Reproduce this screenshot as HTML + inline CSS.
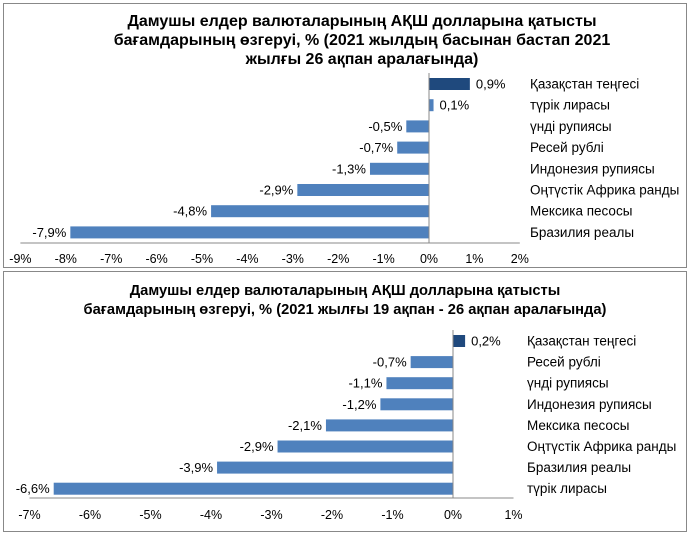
<!DOCTYPE html>
<html><head><meta charset="utf-8"><style>
body{margin:0;background:#fff;}
svg{display:block;font-family:"Liberation Sans",Arial,sans-serif;}
.t{font-weight:bold;font-size:16px;fill:#000;text-anchor:middle}
.t2{font-weight:bold;font-size:14.7px;fill:#000;text-anchor:middle}
.l{font-size:13.5px;fill:#000}
.v{font-size:13px;fill:#000}
.a{font-size:12.5px;fill:#000;text-anchor:middle}
</style></head><body>
<svg width="692" height="537" viewBox="0 0 692 537" xmlns="http://www.w3.org/2000/svg">
<rect x="3.5" y="3.5" width="683" height="264" fill="none" stroke="#888"/>
<rect x="3.5" y="271.5" width="683" height="260" fill="none" stroke="#888"/>
<text class="t" x="362" y="26">Дамушы елдер валюталарының АҚШ долларына қатысты</text>
<text class="t" x="362" y="45">бағамдарының өзгеруі, %  (2021 жылдың басынан бастап 2021</text>
<text class="t" x="362" y="64">жылғы 26 ақпан аралағында)</text>
<text class="t2" x="345" y="295">Дамушы елдер валюталарының АҚШ долларына қатысты</text>
<text class="t2" x="345" y="314">бағамдарының өзгеруі, %  (2021 жылғы 19 ақпан - 26 ақпан аралағында)</text>
<g id="top"></g>
<g id="bot"></g>
</svg>
<script>
function chart(g,zero,s,y0,dy,vals,names,vlab,axisY,ticks,labY,xl){
 let h='';
 vals.forEach((v,i)=>{const cy=y0+dy*i;const x=v<0?zero+v*s:zero;const w=Math.abs(v)*s;
  const c=i==0?'#1f497d':'#4f81bd';
  h+=`<rect x="${x}" y="${cy-6}" width="${w}" height="12" fill="${c}"/>`;
  const lx=v<0?x-4:x+w+6;
  h+=`<text class="v" x="${lx}" y="${cy+4.5}" text-anchor="${v<0?'end':'start'}">${vlab[i]}</text>`;
  h+=`<text class="l" x="${xl}" y="${cy+4.5}">${names[i]}</text>`;});
 h+=`<line x1="${zero}" y1="${y0-11}" x2="${zero}" y2="${axisY}" stroke="#888"/>`;
 h+=`<line x1="${zero+ticks[0]*s}" y1="${axisY}" x2="${zero+ticks[ticks.length-1]*s}" y2="${axisY}" stroke="#888"/>`;
 ticks.forEach(t=>{h+=`<text class="a" x="${zero+t*s}" y="${labY}">${t}%</text>`;});
 document.getElementById(g).innerHTML=h;}
const r=(a,b)=>{let o=[];for(let i=a;i<=b;i++)o.push(i);return o;};
chart('top',429,45.4,84,21.2,[0.9,0.1,-0.5,-0.7,-1.3,-2.9,-4.8,-7.9],
['Қазақстан теңгесі','түрік лирасы','үнді рупиясы','Ресей рублі','Индонезия рупиясы','Оңтүстік Африка ранды','Мексика песосы','Бразилия реалы'],
['0,9%','0,1%','-0,5%','-0,7%','-1,3%','-2,9%','-4,8%','-7,9%'],243,r(-9,2),263,530);
chart('bot',453,60.5,341,21.1,[0.2,-0.7,-1.1,-1.2,-2.1,-2.9,-3.9,-6.6],
['Қазақстан теңгесі','Ресей рублі','үнді рупиясы','Индонезия рупиясы','Мексика песосы','Оңтүстік Африка ранды','Бразилия реалы','түрік лирасы'],
['0,2%','-0,7%','-1,1%','-1,2%','-2,1%','-2,9%','-3,9%','-6,6%'],498,r(-7,1),519,527);
</script>
</body></html>
